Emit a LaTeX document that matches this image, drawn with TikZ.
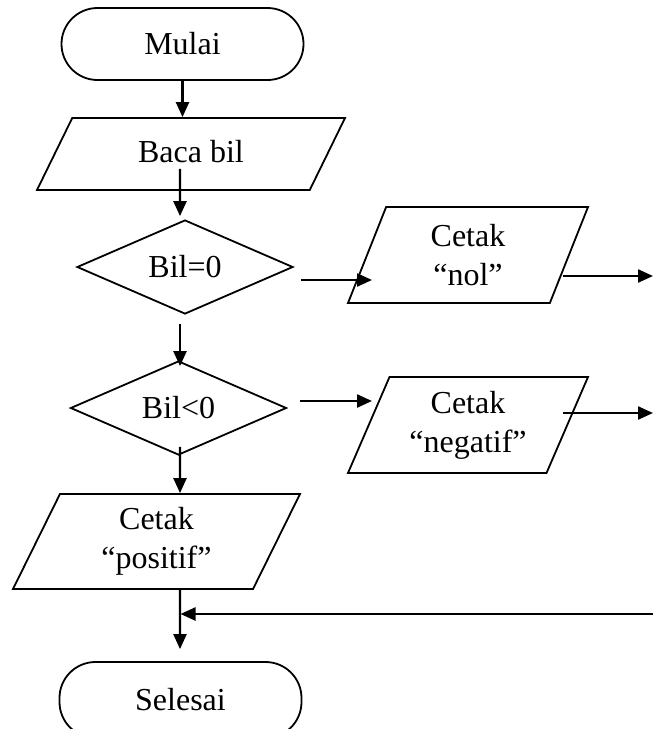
\documentclass[tikz,border=0pt]{standalone}
\usepackage{fontspec}
\setmainfont{Liberation Serif}
\usetikzlibrary{shapes.geometric,arrows.meta}

\begin{document}
\begin{tikzpicture}[x=0.5pt,y=-0.5pt,font=\fontsize{16}{19.5}\selectfont]
  \tikzstyle{terminal}=[draw,line width=0.9pt,rounded corners=18pt,minimum width=121pt,minimum height=36pt]
  \tikzstyle{io}=[draw,line width=0.9pt,trapezium,trapezium stretches body,align=center]
  \tikzstyle{decision}=[draw,line width=0.9pt,diamond,aspect=2.25,inner sep=1pt,minimum width=108pt,minimum height=47pt]
  \tikzstyle{flow}=[line width=1.2pt,-{Triangle[length=7.5pt,width=6.5pt]}]
  \useasboundingbox (0,0) rectangle (653,729);
  % Main column
  \node[terminal] (mulai) at (182.5,44) {Mulai};
  \node[io,trapezium left angle=49,trapezium right angle=131,
    minimum width=154pt,minimum height=36pt] (baca) at (191,154) {\raisebox{2.5pt}{Baca bil}};
  \node[decision] (bil0) at (185,267) {Bil=0};
  \node[decision] (bil1) at (178.5,408) {Bil<0};
  \node[io,trapezium left angle=60,trapezium right angle=120,
    minimum width=143.5pt,minimum height=47.5pt] (positif) at (156.5,541.5) {Cetak\\“positif”};
  \node[terminal,minimum height=38pt] (selesai) at (180.5,700) {Selesai};
  % Print nodes on the right
  \foreach \name/\ypos/\txt in {nol/255/nol, neg/425/negatif}
    \node[io,trapezium left angle=63,trapezium right angle=117,
      minimum width=120pt,minimum height=48pt] (\name) at (468,\ypos) {Cetak\\“\txt”};

  \draw[flow] (mulai.south) -- (mulai.south |- baca.north);
  \draw[flow] ([shift={(-11,-22)}]baca.south) -- ([shift={(-5,-3)}]bil0.north);
  \draw[flow] ([shift={(-5,9)}]bil0.south) -- ([shift={(1.5,6)}]bil1.north);
  \draw[flow] ([shift={(1.5,-9)}]bil1.south) -- ([shift={(23.5,0)}]positif.north);
  \draw[flow] ([shift={(23.5,0)}]positif.south) -- ([shift={(-0.5,-12)}]selesai.north);
  \draw[flow] ([shift={(7,13)}]bil0.east) -- ([shift={(-96,25)}]nol.center);
  \draw[flow] ([shift={(13,-7)}]bil1.east) -- ([shift={(-96,-24)}]neg.center);
  % Exits to the right edge and the way back
  \foreach \name/\dy/\ypos in {nol/21/276, neg/-12/413} {
    \coordinate (\name-out) at (653,\ypos);
    \draw[flow] ([shift={(95,\dy)}]\name.center) -- (\name-out);
  }
  \coordinate (back) at (653,614);
  \draw[flow] (back) -- (back -| selesai.north);
\end{tikzpicture}
\end{document}
